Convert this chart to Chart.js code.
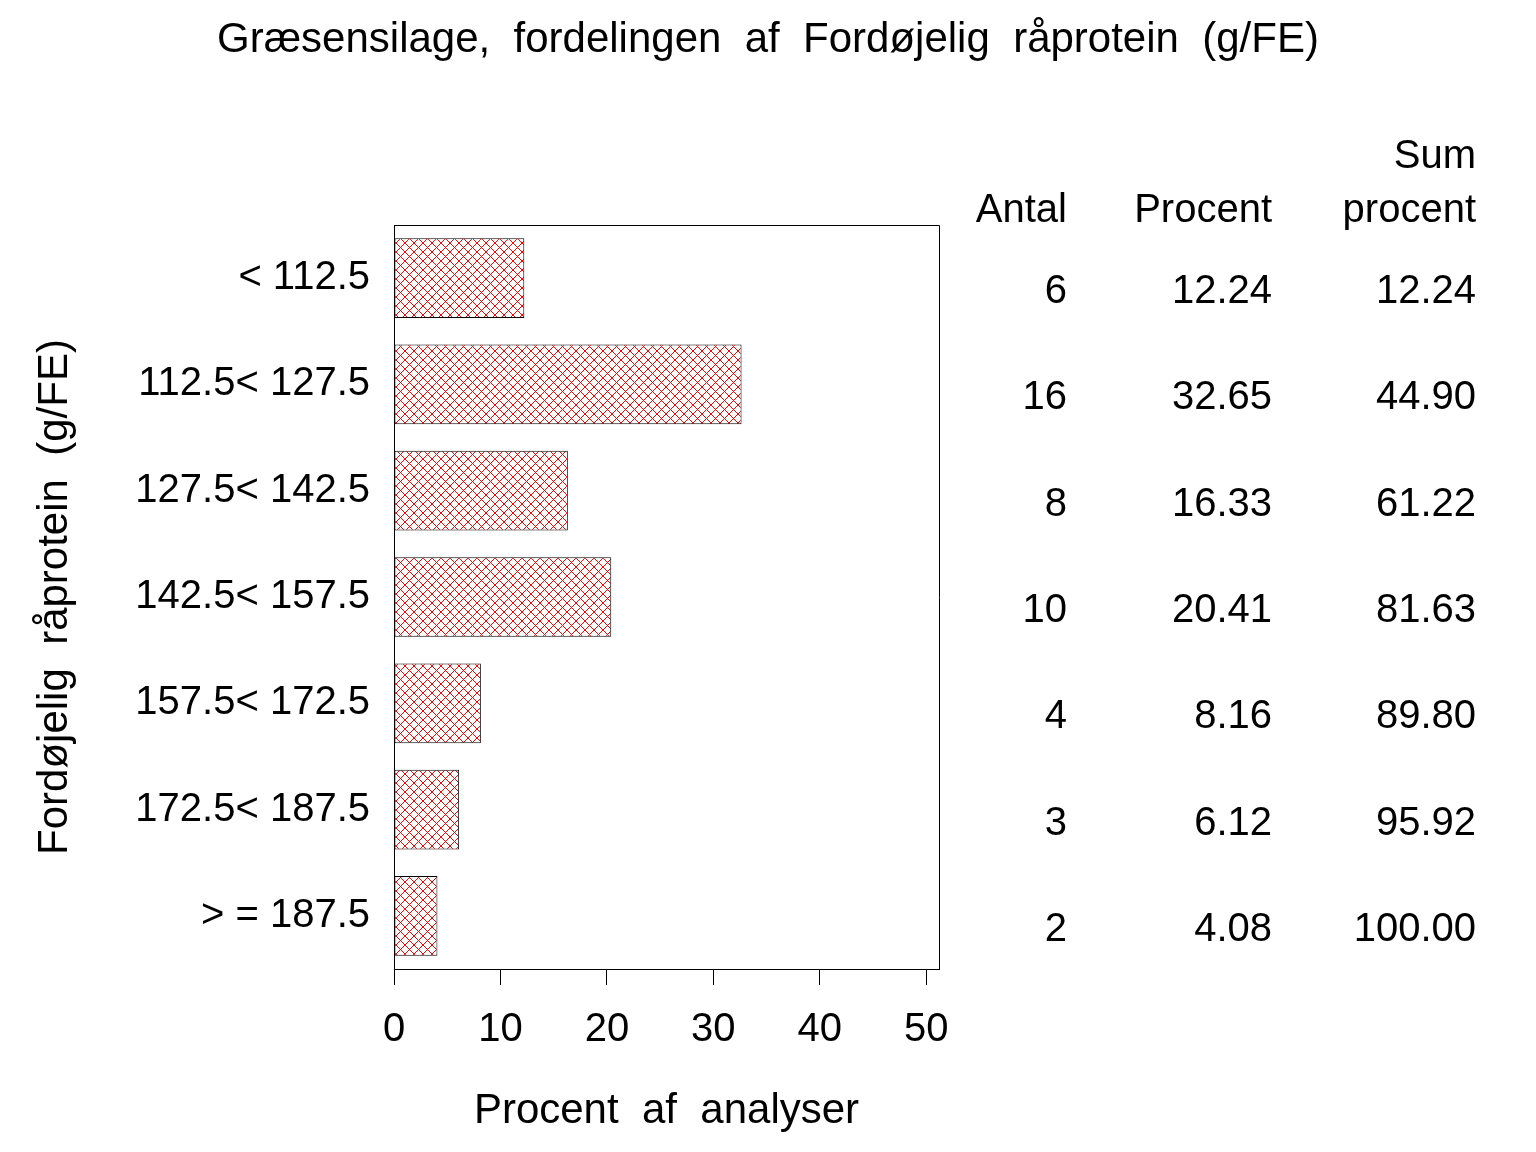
<!DOCTYPE html>
<html>
<head>
<meta charset="utf-8">
<script src="https://cdn.jsdelivr.net/npm/chart.js@4/dist/chart.umd.min.js"></script>
<style>
html,body{margin:0;padding:0;background:#fff;}
#wrap{width:1536px;height:1152px;}
</style>
</head>
<body>
<div id="wrap"><canvas id="c" width="1536" height="1152"></canvas></div>
<script>
const categories = ['< 112.5', '112.5< 127.5', '127.5< 142.5', '142.5< 157.5', '157.5< 172.5', '172.5< 187.5', '> = 187.5'];
const antal = [6, 16, 8, 10, 4, 3, 2];
const procent = [12.24, 32.65, 16.33, 20.41, 8.16, 6.12, 4.08];
const sumProcent = [12.24, 44.90, 61.22, 81.63, 89.80, 95.92, 100.00];
const xTicks = [0, 10, 20, 30, 40, 50];
const tableHeaders = ['Antal', 'Procent', 'procent'];
const tableSuperHeaders = ['', '', 'Sum'];
const titleText = 'Græsensilage,  fordelingen  af  Fordøjelig  råprotein  (g/FE)';

const FONT = "'Liberation Sans', Arial, Helvetica, sans-serif";

function makePattern() {
  const s = 9;
  const p = document.createElement('canvas');
  p.width = s; p.height = s;
  const g = p.getContext('2d');
  g.fillStyle = '#ffffff';
  g.fillRect(0, 0, s, s);
  g.strokeStyle = '#ff0000';
  g.lineWidth = 1;
  g.beginPath();
  g.moveTo(0, 0); g.lineTo(s, s);
  g.moveTo(s, 0); g.lineTo(0, s);
  g.stroke();
  return document.createElement('canvas').getContext('2d').createPattern(p, 'repeat');
}

const framePlugin = {
  id: 'frame',
  beforeDraw(chart) {
    const ctx = chart.ctx;
    ctx.save();
    ctx.fillStyle = '#ffffff';
    ctx.fillRect(0, 0, chart.width, chart.height);
    ctx.restore();
  },
  afterDraw(chart) {
    const ctx = chart.ctx;
    const a = chart.chartArea;
    ctx.save();
    ctx.strokeStyle = '#000';
    ctx.lineWidth = 1;
    ctx.beginPath();
    ctx.moveTo(Math.round(a.left) + 0.5, Math.round(a.bottom) + 0.5);
    ctx.lineTo(Math.round(a.left) + 0.5, Math.round(a.top) + 0.5);
    ctx.lineTo(Math.round(a.right) + 0.5, Math.round(a.top) + 0.5);
    ctx.lineTo(Math.round(a.right) + 0.5, Math.round(a.bottom) + 0.5);
    ctx.stroke();

    // title
    ctx.fillStyle = '#000';
    ctx.font = '42px ' + FONT;
    ctx.textAlign = 'center';
    ctx.textBaseline = 'middle';
    ctx.fillText(titleText, chart.width / 2, 40);

    // table
    const y = chart.scales.y;
    const colRight = [1067, 1272, 1476];
    ctx.font = '40px ' + FONT;
    ctx.textAlign = 'right';
    ctx.textBaseline = 'middle';
    for (let c = 0; c < 3; c++) {
      if (tableSuperHeaders[c]) ctx.fillText(tableSuperHeaders[c], colRight[c], a.top - 68);
      ctx.fillText(tableHeaders[c], colRight[c], a.top - 14);
    }
    for (let i = 0; i < categories.length; i++) {
      const yy = y.getPixelForValue(i) + 14;
      ctx.fillText(String(antal[i]), colRight[0], yy);
      ctx.fillText(procent[i].toFixed(2), colRight[1], yy);
      ctx.fillText(sumProcent[i].toFixed(2), colRight[2], yy);
    }
    ctx.restore();
  }
};

const chart = new Chart(document.getElementById('c'), {
  type: 'bar',
  data: {
    labels: categories,
    datasets: [{
      data: procent,
      backgroundColor: makePattern(),
      borderColor: '#000',
      borderWidth: 1,
      borderSkipped: false,
      barPercentage: 0.75,
      categoryPercentage: 1
    }]
  },
  options: {
    indexAxis: 'y',
    responsive: false,
    animation: false,
    devicePixelRatio: 1,
    layout: { padding: { left: 0, right: 597, top: 225, bottom: 0 } },
    plugins: {
      legend: { display: false },
      tooltip: { enabled: false },
      title: { display: false }
    },
    scales: {
      x: {
        type: 'linear',
        min: 0,
        max: 51.2,
        afterBuildTicks(s) { s.ticks = xTicks.map(v => ({ value: v })); },
        afterFit(s) { s.height = 183; },
        ticks: {
          color: '#000',
          font: { family: FONT, size: 40 },
          padding: 21,
          maxRotation: 0
        },
        grid: {
          drawOnChartArea: false,
          drawTicks: true,
          tickLength: 16,
          color: '#000',
          lineWidth: 1
        },
        border: { display: true, color: '#000', width: 1 },
        title: {
          display: true,
          text: 'Procent  af  analyser',
          color: '#000',
          font: { family: FONT, size: 42 },
          padding: { top: 0, bottom: 15 }
        }
      },
      y: {
        type: 'category',
        afterFit(s) { s.width = 394; },
        ticks: {
          color: '#000',
          font: { family: FONT, size: 40 },
          padding: 24
        },
        grid: { display: false, drawTicks: false },
        border: { display: true, color: '#000', width: 1 },
        title: {
          display: true,
          text: 'Fordøjelig  råprotein  (g/FE)',
          color: '#000',
          font: { family: FONT, size: 42 },
          padding: { top: 30, bottom: 0 }
        }
      }
    }
  },
  plugins: [framePlugin]
});
</script>
</body>
</html>
